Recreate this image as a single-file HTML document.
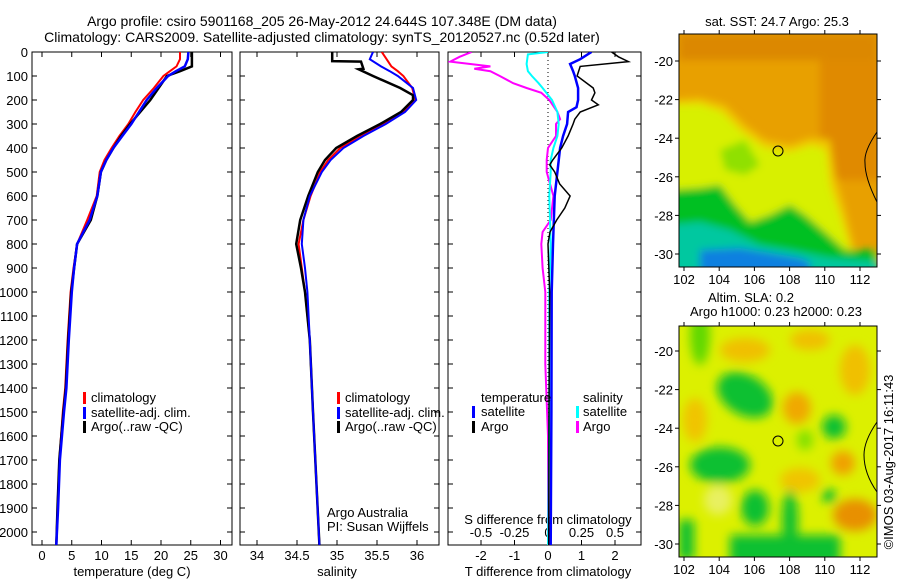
<!DOCTYPE html>
<html><head><meta charset="utf-8"><style>
html,body{margin:0;padding:0;background:#fff;}
svg{display:block;font-family:"Liberation Sans",sans-serif;}
text{fill:#000;}
</style></head><body>
<svg id="fig" width="900" height="580" viewBox="0 0 900 580">
<defs>
<filter id="blur1" x="-20%" y="-20%" width="140%" height="140%"><feGaussianBlur stdDeviation="4"/></filter>
<filter id="blur2" x="-20%" y="-20%" width="140%" height="140%"><feGaussianBlur stdDeviation="5"/></filter>
<clipPath id="clipM1"><rect x="679" y="34" width="198" height="233"/></clipPath>
<clipPath id="clipM2"><rect x="679" y="326" width="198" height="231"/></clipPath>
<clipPath id="clipP1"><rect x="32" y="52" width="200" height="493"/></clipPath>
<clipPath id="clipP2"><rect x="240" y="52" width="199" height="493"/></clipPath>
<clipPath id="clipP3"><rect x="448" y="52" width="193" height="493"/></clipPath>
</defs>
<text x="322" y="26" font-size="14" text-anchor="middle">Argo profile: csiro 5901168_205 26-May-2012 24.644S 107.348E (DM data)</text>
<text x="322" y="42" font-size="14" text-anchor="middle">Climatology: CARS2009. Satellite-adjusted climatology: synTS_20120527.nc (0.52d later)</text>

<g id="maps">
<text x="777" y="26" font-size="13" text-anchor="middle">sat. SST: 24.7 Argo: 25.3</text>
<g clip-path="url(#clipM1)">
<rect x="679" y="34" width="198" height="233" fill="#e8a000"/>
<g filter="url(#blur1)">
<rect x="679" y="34" width="198" height="26" fill="#dc8800"/>
<rect x="820" y="60" width="60" height="120" fill="#e08a00"/>
<polygon points="670,100 700,98 725,105 745,125 765,140 790,145 810,138 830,140 835,175 845,210 855,250 880,250 880,270 670,270" fill="#f0c800"/>
<polygon points="670,105 700,104 722,112 742,132 765,148 790,152 812,145 826,150 830,185 840,215 850,250 880,258 880,270 670,270" fill="#d8f000"/>
<polygon points="670,190 700,188 720,185 735,205 750,222 770,215 790,205 805,215 825,232 845,250 877,250 877,270 670,270" fill="#00c020"/>
<polygon points="720,150 745,140 760,165 745,175 725,170" fill="#90e000"/>
<polygon points="670,225 700,222 730,230 760,245 790,250 830,258 880,262 880,275 670,275" fill="#00c8a0"/>
<polygon points="700,250 740,248 800,258 810,262 810,275 700,275" fill="#1080e0"/>
</g>
</g>
<rect x="679" y="34" width="198" height="233" fill="none" stroke="#000"/>
<path d="M877,132 C868,145 864,155 865,163 C865,175 870,188 877,202" fill="none" stroke="#000"/>
<circle cx="778" cy="151" r="5" fill="none" stroke="#000"/>
<g id="m1ticks"></g>

<text x="751" y="302" font-size="13" text-anchor="middle">Altim. SLA: 0.2</text>
<text x="776" y="316" font-size="13" text-anchor="middle">Argo h1000: 0.23 h2000: 0.23</text>
<g clip-path="url(#clipM2)">
<rect x="679" y="326" width="198" height="231" fill="#dcf000"/>
<g filter="url(#blur2)">
<ellipse cx="700" cy="335" rx="10" ry="30" fill="#60d800"/>
<ellipse cx="745" cy="350" rx="25" ry="12" fill="#f0c000"/>
<ellipse cx="810" cy="340" rx="20" ry="10" fill="#f0c000"/>
<ellipse cx="855" cy="370" rx="15" ry="25" fill="#f0c000"/>
<ellipse cx="745" cy="395" rx="30" ry="20" fill="#10c030" transform="rotate(30 745 395)"/>
<ellipse cx="797" cy="408" rx="14" ry="16" fill="#f0a800"/>
<ellipse cx="834" cy="427" rx="12" ry="12" fill="#10c030"/>
<ellipse cx="805" cy="440" rx="8" ry="10" fill="#80e000"/>
<ellipse cx="695" cy="420" rx="12" ry="22" fill="#f0c400"/>
<ellipse cx="720" cy="465" rx="30" ry="18" fill="#10c030"/>
<ellipse cx="843" cy="463" rx="12" ry="12" fill="#f0a000"/>
<ellipse cx="800" cy="480" rx="20" ry="12" fill="#f0c400"/>
<ellipse cx="829" cy="496" rx="7" ry="7" fill="#10c030"/>
<ellipse cx="718" cy="500" rx="14" ry="15" fill="#e8f060"/>
<ellipse cx="755" cy="508" rx="14" ry="18" fill="#10c030"/>
<ellipse cx="855" cy="515" rx="22" ry="16" fill="#e89000"/>
<rect x="679" y="520" width="15" height="40" fill="#10c030"/>
<rect x="730" y="535" width="110" height="30" fill="#10c030"/>
<ellipse cx="790" cy="520" rx="8" ry="30" fill="#10c030"/>
</g>
</g>
<rect x="679" y="326" width="198" height="231" fill="none" stroke="#000"/>
<path d="M877,422 C868,435 864,445 864,455 C864,470 870,482 877,492" fill="none" stroke="#000"/>
<circle cx="778" cy="441" r="5" fill="none" stroke="#000"/>
<g id="m2ticks"></g>
<text transform="translate(893,462) rotate(-90)" font-size="13" text-anchor="middle">©IMOS 03-Aug-2017 16:11:43</text>
</g>

<g id="p1"></g>
<g id="p2"></g>
<g id="p3"></g>
</svg>
<script>
// ---- temperature profile data ----
const tDepth = [0,30,60,80,100,150,200,250,300,350,400,450,500,600,700,800,900,1000,1200,1400,1500,1700,1900,2054];
const tClim  = [23.2,23.2,22.6,21.5,20.4,18.8,17,15.7,14.5,13,11.7,10.5,9.7,9.2,7.6,5.9,5.3,4.8,4.3,3.9,3.5,2.9,2.6,2.4];
const tSat   = [24.6,24.5,24,22.5,21.2,19.3,17.6,16.3,15,13.5,12,10.8,9.9,9.3,8,5.9,5.4,5,4.5,4.1,3.7,3.0,2.7,2.4];
const tArgo  = [25.2,25.2,25.2,23.2,21,19.6,18.2,16.5,14.8,13.3,12,10.8,9.9,9.3,8.2,5.9,5.4,4.9,4.4,4.0,3.6,2.9,2.6,2.4];
// ---- salinity profile data ----
const sDepth = [0,30,60,80,100,150,200,250,300,350,400,450,500,600,700,800,900,1000,1200,1500,2054];
const sClim  = [35.56,35.62,35.68,35.76,35.83,35.94,35.98,35.83,35.58,35.29,35.04,34.89,34.79,34.67,34.58,34.52,34.56,34.6,34.66,34.7,34.78];
const sSat   = [35.45,35.41,35.55,35.66,35.76,35.95,35.99,35.85,35.61,35.33,35.08,34.92,34.81,34.66,34.58,34.56,34.6,34.63,34.66,34.7,34.78];
const sArgoDepth = [0,38,40,70,72,100,150,180,200,250,300,350,400,450,500,600,700,800,900,1000,1200,1500,2054];
const sArgo  = [34.94,34.94,35.3,35.33,35.27,35.45,35.79,35.95,35.95,35.8,35.54,35.25,34.99,34.85,34.76,34.64,34.54,34.49,34.55,34.6,34.66,34.7,34.78];
// ---- difference data ----
const dsArgoDepth = [0,20,40,60,70,80,100,130,150,170,200,250,280,300,350,400,450,500,600,700,750,800,900,1000,1300,1600,2054];
const dsArgo = [-0.57,-0.66,-0.73,-0.43,-0.55,-0.43,-0.36,-0.26,-0.16,-0.05,0.01,0.07,0.09,0.06,0.06,0.0,-0.01,-0.01,0.04,0.02,-0.04,-0.05,-0.04,-0.02,-0.02,0,0];
const dsSatDepth = [0,10,50,80,100,130,150,200,250,300,350,400,450,500,600,800,1000,1500,2054];
const dsSat = [0,-0.15,-0.16,-0.15,-0.12,-0.07,-0.04,0.03,0.07,0.08,0.07,0.04,0.02,0.02,0.01,0.02,0.01,0.01,0.0];
const dtSatDepth = [0,30,50,80,100,150,200,230,250,300,350,400,500,600,800,1000,1500,2054];
const dtSat = [1.3,0.96,0.66,0.75,0.8,0.9,0.9,0.85,0.6,0.57,0.45,0.36,0.28,0.2,0.15,0.11,0.1,0.08];
const dtArgoDepth = [0,20,40,60,100,150,170,200,220,250,280,300,350,400,450,470,500,550,600,650,700,750,800,1000,1500,2054];
const dtArgo = [1.9,2.1,2.4,0.96,0.87,1.35,1.4,1.3,1.5,0.96,0.8,0.75,0.6,0.41,0.14,0.05,0.2,0.35,0.66,0.5,0.26,0.06,0.0,0.05,0.03,0.02];
// ---- tick labels ----
const depthTicks = [0,100,200,300,400,500,600,700,800,900,1000,1100,1200,1300,1400,1500,1600,1700,1800,1900,2000];
const tTicks = [0,5,10,15,20,25,30];
const sTicks = [34,34.5,35,35.5,36];
const dtTicks = [-2,-1,0,1,2];
const dsTicks = [-0.5,-0.25,0,0.25,0.5];
const dsTickLabels = ["-0.5","-0.25","0","0.25","0.5"];
const lonTicks = [102,104,106,108,110,112];
const latTicks = [-20,-22,-24,-26,-28,-30];

const NS='http://www.w3.org/2000/svg';
function mk(parent,tag,attrs){const e=document.createElementNS(NS,tag);for(const k in attrs)e.setAttribute(k,attrs[k]);parent.appendChild(e);return e;}
const TOP=52,BOT=545;
function yD(d){return TOP+d*0.24;}
function xT(v){return 42+v*5.95;}
function xS(v){return 257+(v-34)*80;}
function xDT(v){return 548+v*33.5;}
function xDS(v){return 548+v*134;}

function line(g,xs,ds,fx,color,w,name,clip){
  let p='';for(let i=0;i<xs.length;i++){p+=(i?'L':'M')+fx(xs[i]).toFixed(1)+','+yD(ds[i]).toFixed(1);}
  const e=mk(g,'path',{d:p,fill:'none',stroke:color,'stroke-width':w,'clip-path':clip});
  
  
}
function frame(g,x0,x1,name){
  const r=mk(g,'rect',{x:x0,y:TOP,width:x1-x0,height:BOT-TOP,fill:'none',stroke:'#000','stroke-width':1});
  
  
}
function yTicks(g,x0,x1,labels){
  depthTicks.forEach(d=>{const y=yD(d);
    mk(g,'line',{x1:x0,y1:y,x2:x0+5,y2:y,stroke:'#000'});
    mk(g,'line',{x1:x1-5,y1:y,x2:x1,y2:y,stroke:'#000'});
    if(labels){const t=mk(g,'text',{x:x0-4,y:y+5,'font-size':13,'text-anchor':'end'});t.textContent=d;
      
      }
  });
}
function xTicks(g,ticks,fx,labels,y,name,top){
  ticks.forEach((v,i)=>{const x=fx(v);
    mk(g,'line',{x1:x,y1:BOT,x2:x,y2:BOT-5,stroke:'#000'});
    if(top!==false)mk(g,'line',{x1:x,y1:TOP,x2:x,y2:TOP+5,stroke:'#000'});
    const t=mk(g,'text',{x:x,y:y,'font-size':13,'text-anchor':'middle'});t.textContent=labels?labels[i]:v;
    
    
  });
}
function txt(g,x,y,s,name,anchor){const t=mk(g,'text',{x:x,y:y,'font-size':13,'text-anchor':anchor||'start'});t.textContent=s;
  
  return t;}
function legendMark(g,x,y,color){mk(g,'rect',{x:x,y:y-10,width:3,height:12,fill:color});}

// Panel 1
const p1=document.getElementById('p1');
frame(p1,32,232,'temperature-axes-frame');
yTicks(p1,32,232,true);
xTicks(p1,tTicks,xT,null,560,'temperature-tick-label');
txt(p1,132,576,'temperature (deg C)','temperature-axis-title','middle');
line(p1,tClim,tDepth,xT,'#f00',2,'temperature-climatology-line','url(#clipP1)');
line(p1,tArgo,tDepth,xT,'#000',2.5,'temperature-argo-line','url(#clipP1)');
line(p1,tSat,tDepth,xT,'#00f',2.5,'temperature-satellite-line','url(#clipP1)');
[['climatology','#f00',402],['satellite-adj. clim.','#00f',417],['Argo(..raw -QC)','#000',431]].forEach(r=>{legendMark(p1,83,r[2],r[1]);txt(p1,91,r[2],r[0],'temperature-legend-entry');});

// Panel 2
const p2=document.getElementById('p2');
frame(p2,240,439,'salinity-axes-frame');
yTicks(p2,240,439,false);
xTicks(p2,sTicks,xS,null,560,'salinity-tick-label');
txt(p2,337,576,'salinity','salinity-axis-title','middle');
line(p2,sClim,sDepth,xS,'#f00',2,'salinity-climatology-line','url(#clipP2)');
line(p2,sArgo,sArgoDepth,xS,'#000',2.5,'salinity-argo-line','url(#clipP2)');
line(p2,sSat,sDepth,xS,'#00f',2,'salinity-satellite-line','url(#clipP2)');
[['climatology','#f00',402],['satellite-adj. clim.','#00f',417],['Argo(..raw -QC)','#000',431]].forEach(r=>{legendMark(p2,337,r[2],r[1]);txt(p2,345,r[2],r[0],'salinity-legend-entry');});
txt(p2,327,517,'Argo Australia','credit-argo-australia');
txt(p2,327,531,'PI: Susan Wijffels','credit-pi');

// Panel 3
const p3=document.getElementById('p3');
frame(p3,448,641,'difference-axes-frame');
yTicks(p3,448,641,false);
xTicks(p3,dtTicks,xDT,null,560,'t-difference-tick-label');
txt(p3,548,576,'T difference from climatology','t-difference-axis-title','middle');
dsTicks.forEach((v,i)=>{const t=txt(p3,xDS(v),537,dsTickLabels[i],'s-difference-tick-label','middle');});
txt(p3,548,524,'S difference from climatology','s-difference-axis-title','middle');
mk(p3,'line',{x1:548,y1:TOP,x2:548,y2:BOT,stroke:'#000','stroke-dasharray':'1,3'});
line(p3,dsArgo,dsArgoDepth,xDS,'#f0f',2,'salinity-argo-difference-line','url(#clipP3)');
line(p3,dsSat,dsSatDepth,xDS,'#0ff',2,'salinity-satellite-difference-line','url(#clipP3)');
line(p3,dtSat,dtSatDepth,xDT,'#00f',2.5,'temperature-satellite-difference-line','url(#clipP3)');
line(p3,dtArgo,dtArgoDepth,xDT,'#000',1.5,'temperature-argo-difference-line','url(#clipP3)');
txt(p3,481,402,'temperature','diff-legend-temperature-heading');
txt(p3,583,402,'salinity','diff-legend-salinity-heading');
legendMark(p3,472,416,'#00f');txt(p3,481,416,'satellite','diff-legend-t-satellite');
legendMark(p3,472,431,'#000');txt(p3,481,431,'Argo','diff-legend-t-argo');
legendMark(p3,576,416,'#0ff');txt(p3,583,416,'satellite','diff-legend-s-satellite');
legendMark(p3,576,431,'#f0f');txt(p3,583,431,'Argo','diff-legend-s-argo');

// Map ticks
function mapTicks(id,y0,y1,latY){
  const g=document.getElementById(id);
  lonTicks.forEach(l=>{const x=684+(l-102)*17.6;
    mk(g,'line',{x1:x,y1:y1,x2:x,y2:y1+4,stroke:'#000'});
    mk(g,'line',{x1:x,y1:y0,x2:x,y2:y0-4,stroke:'#000'});
    const t=txt(g,x,y1+17,String(l),'longitude-tick-label','middle');});
  latTicks.forEach(l=>{const y=latY+(-20-l)*19.3;
    mk(g,'line',{x1:679,y1:y,x2:675,y2:y,stroke:'#000'});
    mk(g,'line',{x1:877,y1:y,x2:881,y2:y,stroke:'#000'});
    txt(g,673,y+5,String(l),'latitude-tick-label','end');});
}
mapTicks('m1ticks',34,267,61);
mapTicks('m2ticks',326,557,351);
</script>
</body></html>
